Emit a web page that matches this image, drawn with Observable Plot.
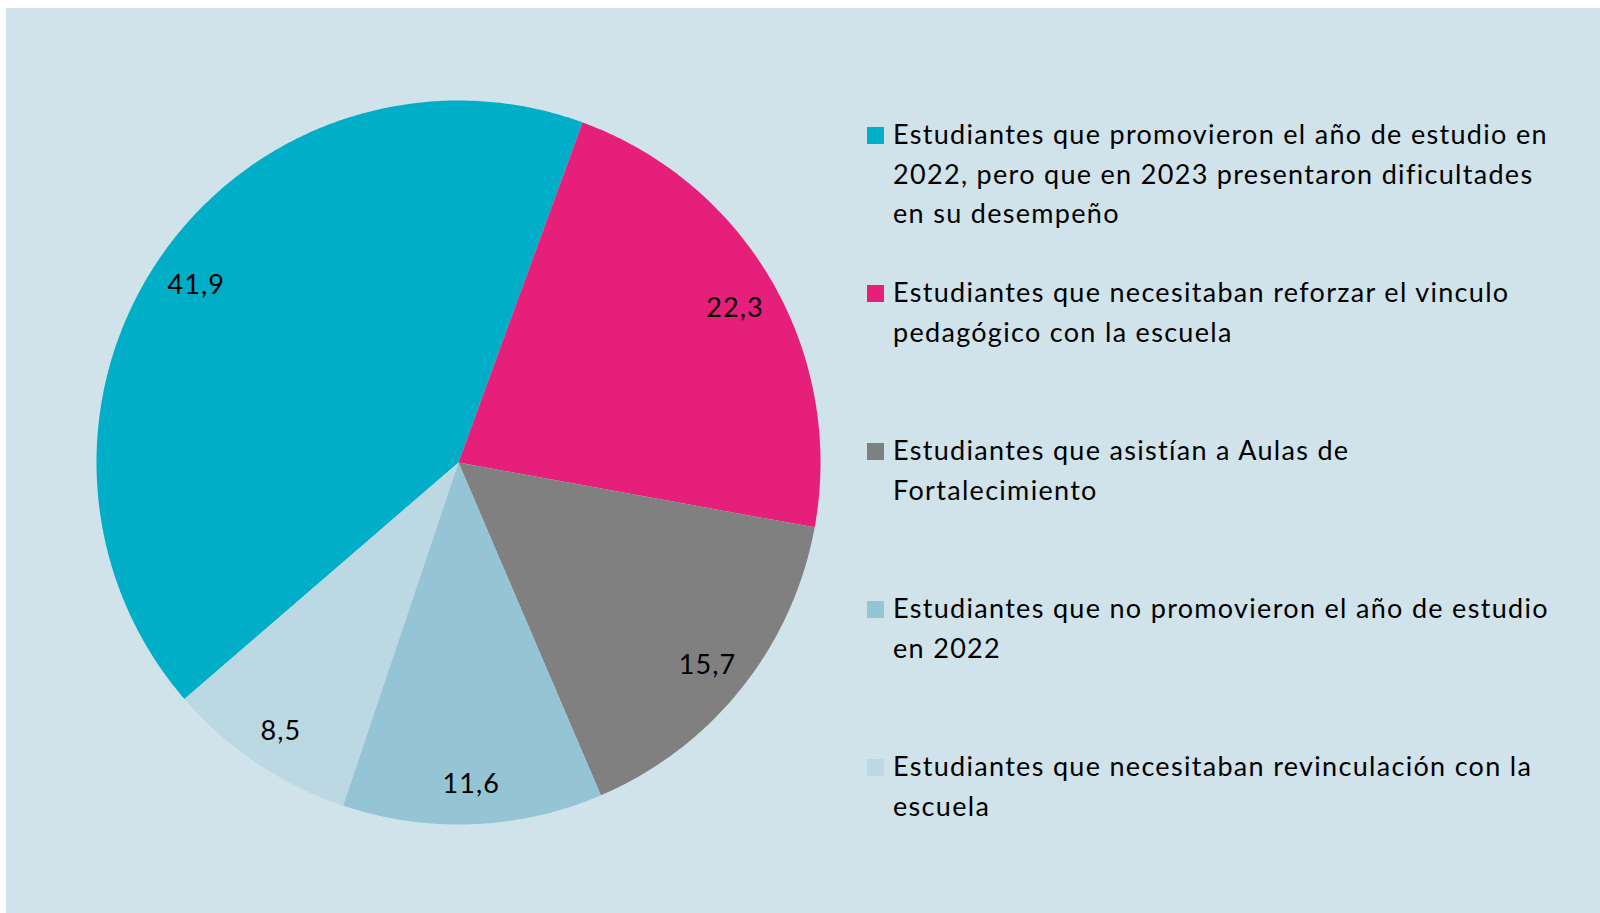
<!DOCTYPE html>
<html>
<head>
<meta charset="utf-8">
<script src="https://cdn.jsdelivr.net/npm/d3@7"></script>
<script src="https://cdn.jsdelivr.net/npm/@observablehq/plot@0.6"></script>
<style>
  html, body { margin: 0; padding: 0; background: #ffffff; }
  #wrap { position: relative; width: 1600px; height: 913px; overflow: hidden; background: #ffffff; }
  #bg { position: absolute; left: 6px; top: 8px; right: 0; bottom: 0; background: #d0e3ea; }
  #chart { position: absolute; left: 0; top: 0; }
  .leg { position: absolute; left: 893px; font-family: Lato, "Open Sans", sans-serif; font-size: 27px; line-height: 39.5px; color: #000; white-space: pre; }
  .sw { position: absolute; left: 867px; width: 17px; height: 17px; }
</style>
</head>
<body>
<div id="wrap">
  <div id="bg"></div>
  <div id="chart"></div>
</div>
<script>
// ---- data ----
const categories = [
  "Estudiantes que promovieron el año de estudio en\n2022, pero que en 2023 presentaron dificultades\nen su desempeño",
  "Estudiantes que necesitaban reforzar el vinculo\npedagógico con la escuela",
  "Estudiantes que asistían a Aulas de\nFortalecimiento",
  "Estudiantes que no promovieron el año de estudio\nen 2022",
  "Estudiantes que necesitaban revinculación con la\nescuela"
];
const values = [41.9, 22.3, 15.7, 11.6, 8.5];
const colors = ["#00aec7", "#e61f7a", "#808080", "#95c4d5", "#bcd8e2"];

// ---- geometry (style) ----
const startDeg = 229.2;      // first slice starts here, clockwise from 12 o'clock
const labelR = 0.88;         // label radius as fraction of pie radius
const total = d3.sum(values);

const slices = [];
const labels = [];
let acc = 0;
values.forEach((v, i) => {
  const a0 = (startDeg + acc / total * 360) * Math.PI / 180;
  acc += v;
  const a1 = (startDeg + acc / total * 360) * Math.PI / 180;
  const cat = categories[i];
  slices.push({cat, x: 0, y: 0});
  const n = Math.max(2, Math.ceil((a1 - a0) / (Math.PI / 360)));
  for (let k = 0; k <= n; k++) {
    const a = a0 + (a1 - a0) * k / n;
    slices.push({cat, x: Math.sin(a), y: Math.cos(a)});
  }
  slices.push({cat, x: 0, y: 0});
  const am = (a0 + a1) / 2;
  labels.push({cat, x: labelR * Math.sin(am), y: labelR * Math.cos(am), text: v.toFixed(1).replace(".", ",")});
});

const plot = Plot.plot({
  width: 1600,
  height: 913,
  margin: 0,
  style: {background: "transparent", overflow: "visible"},
  x: {domain: [-1, 1], range: [96, 820], axis: null},
  y: {domain: [-1, 1], range: [824, 100], axis: null},
  color: {domain: categories, range: colors},
  marks: [
    Plot.line(slices, {x: "x", y: "y", z: "cat", fill: "cat", stroke: "none", curve: "linear"}),
    Plot.text(labels, {x: "x", y: "y", dy: 4, text: "text", fill: "#000", fontSize: 27, fontFamily: "Lato, 'Open Sans', sans-serif"})
  ]
});
plot.querySelectorAll("text").forEach(t => t.style.letterSpacing = "1.1px");
document.getElementById("chart").appendChild(plot);

// ---- legend ----
const wrap = document.getElementById("wrap");
const legTop = 134, legStep = 158;
const legEls = [];
categories.forEach((c, i) => {
  const cy = legTop + i * legStep;
  const sw = document.createElement("div");
  sw.className = "sw";
  sw.style.top = (cy - 7.5) + "px";
  sw.style.background = colors[i];
  wrap.appendChild(sw);
  const t = document.createElement("div");
  t.className = "leg";
  t.style.top = (cy - 19.75) + "px";
  t.textContent = c;
  wrap.appendChild(t);
  legEls.push(t);
});
// fit letter spacing so the first legend line spans the same width as the reference
(function fit() {
  const first = categories[0].split("\n")[0];
  const probe = document.createElement("span");
  probe.className = "leg";
  probe.style.visibility = "hidden";
  probe.textContent = first;
  wrap.appendChild(probe);
  const w = probe.getBoundingClientRect().width;
  wrap.removeChild(probe);
  const target = 655;
  const ls = (target - w) / first.length;
  legEls.forEach(e => e.style.letterSpacing = ls.toFixed(2) + "px");
})();
</script>
</body>
</html>
